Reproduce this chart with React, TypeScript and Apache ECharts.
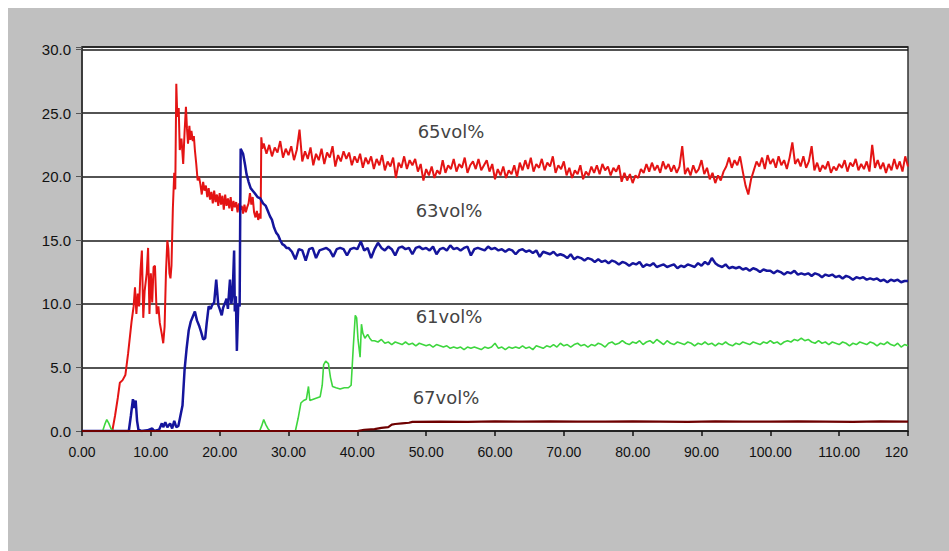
import React, { useEffect, useRef } from "react";
import * as echarts from "echarts";

// ---- axis settings ----
const X_MIN = 0;
const X_MAX = 120;
const X_INTERVAL = 10;
const Y_MIN = 0;
const Y_MAX = 30.2;
const Y_INTERVAL = 5;

// ---- series labels ----
const seriesNames = ["65vol%", "63vol%", "61vol%", "67vol%"];

// ---- 65vol% (red): start-up part as [time, value] ----
const redHead: number[][] = [
  [0, 0], [4.4, 0], [4.8, 1.2], [5.2, 2.6], [5.5, 3.8], [5.9, 4.0], [6.3, 4.4], [6.7, 6.1], [6.9, 7.1], [7.2, 8.6],
  [7.5, 9.8], [7.7, 11.3], [7.9, 9.2], [8.1, 10.8], [8.3, 9.8], [8.5, 12.6], [8.7, 14.2], [8.9, 8.9], [9.1, 11.0], [9.4, 12.4],
  [9.6, 14.4], [9.8, 9.2], [10.0, 12.4], [10.2, 10.1], [10.4, 12.9], [10.6, 13.0], [10.85, 9.2], [11.1, 9.8], [11.3, 8.5], [11.6, 7.6],
  [11.8, 6.9], [12.0, 8.2], [12.2, 12.5], [12.4, 15.0], [12.55, 14.3], [12.7, 12.4], [12.85, 12.0], [13.0, 13.0], [13.2, 17.5], [13.4, 20.3],
  [13.55, 19.0], [13.7, 27.3], [13.8, 25.5], [13.9, 24.7], [14.05, 25.4], [14.2, 22.1], [14.45, 23.0], [14.7, 21.0], [14.9, 23.5], [15.1, 25.5],
  [15.25, 23.8], [15.4, 22.6], [15.6, 24.0], [15.75, 22.9], [15.9, 23.6], [16.1, 22.8], [16.25, 23.2], [16.4, 22.1], [16.6, 21.0], [16.8, 19.7],
  [17.0, 20.0], [17.2, 19.4], [17.4, 18.6], [17.6, 19.6], [17.8, 18.9], [18.0, 19.3], [18.2, 18.4], [18.4, 19.1], [18.6, 18.2], [18.8, 18.8],
  [19.0, 17.9], [19.2, 18.9], [19.4, 18.0], [19.6, 18.6], [19.8, 17.7], [20.0, 18.7], [20.2, 17.8], [20.4, 18.5], [20.6, 17.4], [20.8, 18.6],
  [21.0, 17.7], [21.2, 18.3], [21.4, 17.5], [21.6, 18.4], [21.8, 17.3], [22.0, 18.1], [22.2, 17.6], [22.4, 18.0], [22.6, 17.2], [22.8, 17.9],
  [23.0, 17.4], [23.2, 17.7], [23.4, 17.1], [23.6, 17.8], [23.8, 17.2], [24.0, 17.6], [24.2, 17.9], [24.4, 18.7], [24.6, 17.8], [24.8, 18.4],
  [25.0, 17.2], [25.2, 16.8], [25.4, 17.3], [25.6, 16.6], [25.8, 17.1], [25.95, 16.7], [26.05, 23.1], [26.2, 22.2],
];
// ---- 65vol% (red): steady part, sampled every 0.4 from 26.4 ----
const RED_TAIL_START = 26.4;
const RED_TAIL_STEP = 0.4;
const redTail: number[] = [
  22.6, 21.8, 22.5, 21.6, 22.3, 21.9, 22.8, 21.5, 22.2, 21.7,
  22.4, 21.3, 22.1, 23.7, 21.2, 22.0, 21.4, 22.3, 20.9, 21.8,
  21.3, 22.2, 21.0, 21.9, 21.5, 22.4, 20.8, 21.7, 21.2, 22.0,
  21.4, 21.9, 20.9, 21.6, 21.1, 21.8, 20.7, 21.5, 21.0, 21.6,
  20.6, 21.4, 20.9, 21.7, 20.5, 21.2, 20.8, 21.5, 19.9, 21.1,
  20.7, 21.6, 20.6, 21.3, 20.9, 21.4, 20.4, 21.0, 19.7, 20.6,
  20.1, 20.8, 19.9, 20.5, 20.2, 21.3, 20.3, 20.9, 20.6, 21.4,
  20.4, 21.0, 20.7, 21.5, 20.3, 20.9, 21.2, 20.6, 21.4, 20.5,
  20.9, 21.3, 20.4, 21.0, 19.8, 20.6, 20.1, 20.8, 19.9, 20.5,
  20.2, 20.9, 20.0, 21.1, 20.5, 21.3, 20.6, 21.5, 20.4, 21.0,
  20.7, 21.4, 20.5, 21.1, 20.8, 21.6, 20.3, 20.9, 20.6, 21.2,
  20.1, 20.7, 19.9, 20.5, 20.2, 20.9, 19.8, 20.4, 20.1, 20.8,
  20.3, 20.9, 20.2, 21.0, 20.5, 20.8, 20.1, 20.7, 20.4, 20.9,
  19.6, 20.3, 19.7, 20.2, 19.5, 20.1, 19.9, 20.6, 20.3, 21.0,
  20.4, 21.1, 20.5, 20.9, 20.3, 21.2, 20.6, 21.0, 20.4, 20.9,
  20.3, 20.8, 22.4, 20.2, 20.7, 20.1, 20.9, 20.3, 20.6, 21.3,
  20.2, 20.7, 19.8, 20.3, 19.5, 20.1, 19.7, 20.4, 20.8, 21.5,
  20.7, 21.3, 20.9, 21.6, 20.4, 19.3, 18.6, 19.8, 20.5, 21.2,
  20.8, 21.5, 20.6, 21.7, 21.0, 21.4, 20.7, 21.6, 20.9, 21.3,
  20.6, 21.5, 22.7, 21.0, 21.4, 20.8, 21.6, 20.7, 21.2, 22.4,
  20.5, 21.1, 20.4, 20.9, 20.6, 21.2, 20.3, 20.8, 20.5, 21.0,
  20.7, 21.3, 20.4, 21.1, 20.8, 21.4, 20.5, 21.0, 20.6, 21.2,
  20.4, 22.5, 20.7, 21.3, 20.6, 21.1, 20.3, 21.0, 20.5, 21.4,
  20.6, 21.2, 20.4, 21.6, 20.8,
];

// ---- 63vol% (blue): start-up part ----
const blueHead: number[][] = [
  [0, 0], [6.8, 0], [7.1, 1.2], [7.4, 2.5], [7.6, 1.8], [7.8, 2.4], [8.0, 0.8], [8.2, 0.1], [8.6, 0], [9.5, 0.05],
  [10.2, 0.2], [10.5, 0], [11.2, 0.1], [11.6, 0.6], [11.8, 0.3], [12.1, 0.7], [12.4, 0.3], [12.8, 0.6], [13.1, 0.2], [13.4, 0.8],
  [13.7, 0.3], [14.0, 0.4], [14.3, 1.2], [14.6, 2.0], [14.9, 4.8], [15.2, 6.5], [15.5, 7.9], [15.8, 8.6], [16.1, 9.0], [16.4, 9.4],
  [16.7, 8.7], [17.0, 8.3], [17.3, 7.8], [17.6, 7.2], [17.9, 7.3], [18.1, 8.4], [18.4, 9.8], [18.7, 9.6], [18.9, 9.9], [19.2, 10.1],
  [19.5, 11.9], [19.8, 9.9], [20.0, 9.6], [20.3, 9.1], [20.5, 9.7], [20.8, 10.1], [21.0, 10.4], [21.2, 9.6], [21.4, 11.2], [21.5, 11.9],
  [21.7, 10.0], [21.9, 11.0], [22.1, 14.2], [22.2, 9.4], [22.35, 10.6], [22.5, 6.3], [22.7, 10.0], [22.9, 9.8], [23.05, 22.2], [23.4, 21.8],
  [23.7, 20.9], [23.9, 20.2], [24.2, 19.6], [24.5, 19.1], [24.8, 18.9], [25.1, 18.7], [25.5, 18.4], [25.9, 18.3], [26.3, 17.9], [26.7, 17.7],
  [27.0, 17.3], [27.3, 16.9], [27.6, 16.6], [27.9, 16.0], [28.2, 15.6], [28.5, 15.4], [28.8, 15.0], [29.1, 14.7], [29.4, 14.6], [29.7, 14.4],
];
// ---- 63vol% (blue): steady part, every 0.5 from 30 ----
const BLUE_TAIL_START = 30;
const BLUE_TAIL_STEP = 0.5;
const blueTail: number[] = [
  14.4, 14.1, 13.5, 14.3, 14.2, 13.4, 14.3, 14.4, 13.6, 14.2,
  14.3, 14.4, 14.2, 13.7, 14.3, 14.4, 14.3, 13.8, 14.3, 14.4,
  14.3, 14.9, 14.2, 14.4, 13.6, 14.3, 14.8, 14.4, 14.2, 14.5,
  14.3, 13.8, 14.4, 14.5, 14.3, 14.4, 13.9, 14.4, 14.5, 14.3,
  14.4, 14.2, 14.5, 13.9, 14.3, 14.4, 14.2, 14.6, 14.3, 14.4,
  14.2, 14.4, 14.5, 13.8, 14.3, 14.4, 14.3, 14.2, 14.5, 14.3,
  14.4, 14.2, 14.3, 14.1, 14.3, 14.2, 13.9, 14.2, 14.3, 14.1,
  14.2, 14.0, 14.2, 13.7, 14.1, 14.0, 13.9, 14.1, 13.8, 13.9,
  13.8, 13.6, 13.9, 13.5, 13.7, 13.6, 13.4, 13.6, 13.5, 13.3,
  13.5, 13.3, 13.4, 13.2, 13.4, 13.3, 13.1, 13.3, 13.2, 13.0,
  13.2, 13.1, 13.3, 12.9, 13.1, 13.0, 13.2, 12.9, 13.0, 13.1,
  12.9, 13.0, 13.1, 12.8, 13.0, 12.9, 13.1, 13.0, 12.9, 13.2,
  13.0, 13.3, 13.1, 13.6, 13.2, 13.0, 12.9, 13.1, 12.8, 12.9,
  12.8, 12.9, 12.7, 12.8, 12.6, 12.8, 12.7, 12.5, 12.7, 12.6,
  12.6, 12.4, 12.6, 12.5, 12.3, 12.5, 12.4, 12.6, 12.3, 12.4,
  12.3, 12.4, 12.2, 12.4, 12.3, 12.1, 12.3, 12.2, 12.3, 12.1,
  12.2, 12.0, 12.2, 12.1, 11.9, 12.1, 12.0, 12.1, 11.9, 12.0,
  11.9, 12.0, 11.8, 11.9, 11.7, 11.9, 11.8, 11.9, 11.7, 11.8, 11.8,
];

// ---- 61vol% (green): start-up part ----
const greenHead: number[][] = [
  [0, 0], [3.0, 0], [3.3, 0.5], [3.6, 0.9], [3.9, 0.6], [4.2, 0.2], [4.5, 0], [25.8, 0], [26.1, 0.4], [26.4, 0.9],
  [26.7, 0.5], [27.0, 0.2], [27.3, 0], [31.0, 0], [31.4, 1.0], [31.8, 2.2], [32.2, 2.4], [32.6, 2.5], [32.9, 3.5], [33.1, 2.4],
  [33.6, 2.5], [34.1, 2.6], [34.6, 2.7], [34.9, 3.6], [35.1, 5.2], [35.4, 5.5], [35.8, 5.3], [36.1, 4.2], [36.4, 3.5], [36.9, 3.4],
  [37.5, 3.3], [38.1, 3.4], [38.7, 3.4], [39.1, 3.6], [39.4, 6.5], [39.7, 9.1], [39.9, 8.9], [40.1, 7.2], [40.4, 5.8], [40.6, 8.4],
  [40.8, 7.7], [41.1, 7.3], [41.5, 7.6], [41.8, 7.3], [42.1, 7.1],
];
// ---- 61vol% (green): steady part, every 0.5 from 42.5 ----
const GREEN_TAIL_START = 42.5;
const GREEN_TAIL_STEP = 0.5;
const greenTail: number[] = [
  7.1, 7.0, 7.2, 6.9, 7.0, 6.8, 7.0, 6.9, 6.8, 7.0,
  6.8, 6.9, 6.7, 6.9, 6.8, 6.7, 6.8, 6.6, 6.8, 6.7,
  6.6, 6.7, 6.5, 6.6, 6.5, 6.6, 6.4, 6.6, 6.5, 6.6,
  6.5, 6.4, 6.6, 6.5, 6.6, 6.9, 6.5, 6.6, 6.4, 6.6,
  6.5, 6.6, 6.5, 6.7, 6.5, 6.6, 6.4, 6.7, 6.6, 6.5,
  6.7, 6.6, 6.8, 6.6, 6.9, 6.7, 6.8, 6.6, 6.8, 6.9,
  6.7, 6.8, 6.6, 6.8, 6.7, 6.9, 6.8, 6.6, 6.9, 7.0,
  6.8, 6.9, 7.1, 6.9, 6.8, 7.0, 6.9, 7.1, 6.8, 7.0,
  7.1, 6.9, 7.2, 7.0, 6.8, 7.1, 6.9, 6.8, 7.0, 6.9,
  6.8, 7.0, 6.9, 6.7, 6.9, 6.8, 7.0, 6.8, 6.9, 6.7,
  6.9, 6.8, 7.0, 6.8, 6.7, 6.9, 6.8, 7.0, 6.9, 6.8,
  7.0, 6.9, 6.8, 7.0, 6.9, 7.1, 6.9, 7.0, 6.8, 7.0,
  7.1, 7.0, 7.2, 7.1, 7.3, 7.1, 7.2, 7.0, 6.9, 7.1,
  6.9, 7.0, 6.8, 7.0, 6.9, 6.8, 7.0, 6.9, 6.7, 6.9,
  6.8, 7.0, 6.9, 6.8, 7.0, 6.9, 6.7, 6.9, 6.8, 7.0,
  6.8, 6.7, 6.9, 6.6, 6.8, 6.7,
];

// ---- 67vol% (dark red) ----
const darkRedData: number[][] = [
  [0, 0], [40.0, 0], [41.0, 0.1], [42.5, 0.15], [43.5, 0.25], [44.5, 0.3], [45.0, 0.5], [45.5, 0.55], [46.5, 0.6], [47.5, 0.65],
  [48.0, 0.72], [52, 0.74], [56, 0.72], [60, 0.75], [64, 0.73], [68, 0.76], [72, 0.74], [76, 0.73], [80, 0.75], [84, 0.74],
  [88, 0.72], [92, 0.75], [96, 0.74], [100, 0.73], [104, 0.76], [108, 0.74], [112, 0.72], [116, 0.75], [120, 0.74],
];

function joinTail(head: number[][], start: number, step: number, tail: number[]): number[][] {
  return head.concat(tail.map((v, i) => [Math.round((start + i * step) * 100) / 100, v]));
}

export default function App() {
  const ref = useRef<HTMLDivElement>(null);

  useEffect(() => {
    if (!ref.current) return;
    const chart = echarts.init(ref.current, undefined, { renderer: "svg" });

    const redData = joinTail(redHead, RED_TAIL_START, RED_TAIL_STEP, redTail);
    const blueData = joinTail(blueHead, BLUE_TAIL_START, BLUE_TAIL_STEP, blueTail);
    const greenData = joinTail(greenHead, GREEN_TAIL_START, GREEN_TAIL_STEP, greenTail);

    const labelFont = '18px "DejaVu Sans", sans-serif';
    const labelColor = "#444";

    chart.setOption({
      animation: false,
      backgroundColor: "#c0c0c0",
      grid: {
        left: 74,
        top: 39,
        right: 41,
        bottom: 120,
        show: true,
        backgroundColor: "#ffffff",
        borderColor: "#333333",
        borderWidth: 1.5,
      },
      xAxis: {
        type: "value",
        min: X_MIN,
        max: X_MAX,
        interval: X_INTERVAL,
        axisLine: { show: true, onZero: false, lineStyle: { color: "#222", width: 1.5 } },
        axisTick: { show: true, inside: false, length: 5, lineStyle: { color: "#111", width: 1.5 } },
        splitLine: { show: false },
        axisLabel: {
          color: "#111",
          fontFamily: '"Liberation Sans", Arial, sans-serif',
          fontSize: 14,
          margin: 14,
          alignMaxLabel: "right",
          formatter: (v: number) => (v === 120 ? "120" : v.toFixed(2)),
        },
      },
      yAxis: {
        type: "value",
        min: Y_MIN,
        max: Y_MAX,
        interval: Y_INTERVAL,
        axisLine: { show: true, lineStyle: { color: "#333", width: 1.5 } },
        axisTick: { show: true, length: 6, lineStyle: { color: "#555", width: 1 } },
        splitLine: { show: true, lineStyle: { color: "#1a1a1a", width: 1.5 } },
        axisLabel: {
          color: "#111",
          fontFamily: '"Liberation Sans", Arial, sans-serif',
          fontSize: 15,
          margin: 11,
          formatter: (v: number) => (Math.abs(v % 5) < 1e-9 ? v.toFixed(1) : ""),
        },
      },
      series: [
        {
          name: seriesNames[0],
          type: "line",
          data: redData,
          showSymbol: false,
          symbol: "none",
          lineStyle: { color: "#e41414", width: 2 },
          z: 2,
        },
        {
          name: seriesNames[1],
          type: "line",
          data: blueData,
          showSymbol: false,
          symbol: "none",
          lineStyle: { color: "#15159c", width: 2.5 },
          z: 3,
        },
        {
          name: seriesNames[2],
          type: "line",
          data: greenData,
          showSymbol: false,
          symbol: "none",
          lineStyle: { color: "#3ed63e", width: 1.6 },
          z: 4,
        },
        {
          name: seriesNames[3],
          type: "line",
          data: darkRedData,
          showSymbol: false,
          symbol: "none",
          lineStyle: { color: "#6e0000", width: 2.2 },
          z: 5,
        },
      ],
      graphic: [
        { type: "text", x: 443, y: 123, z: 10, style: { text: seriesNames[0], font: labelFont, fill: labelColor, align: "center", verticalAlign: "middle" } },
        { type: "text", x: 441, y: 202, z: 10, style: { text: seriesNames[1], font: labelFont, fill: labelColor, align: "center", verticalAlign: "middle" } },
        { type: "text", x: 441, y: 308, z: 10, style: { text: seriesNames[2], font: labelFont, fill: labelColor, align: "center", verticalAlign: "middle" } },
        { type: "text", x: 438, y: 389, z: 10, style: { text: seriesNames[3], font: labelFont, fill: labelColor, align: "center", verticalAlign: "middle" } },
      ],
    });

    return () => chart.dispose();
  }, []);

  return (
    <div
      ref={ref}
      style={{ position: "fixed", left: 8, top: 8, width: 941, height: 543 }}
    />
  );
}
